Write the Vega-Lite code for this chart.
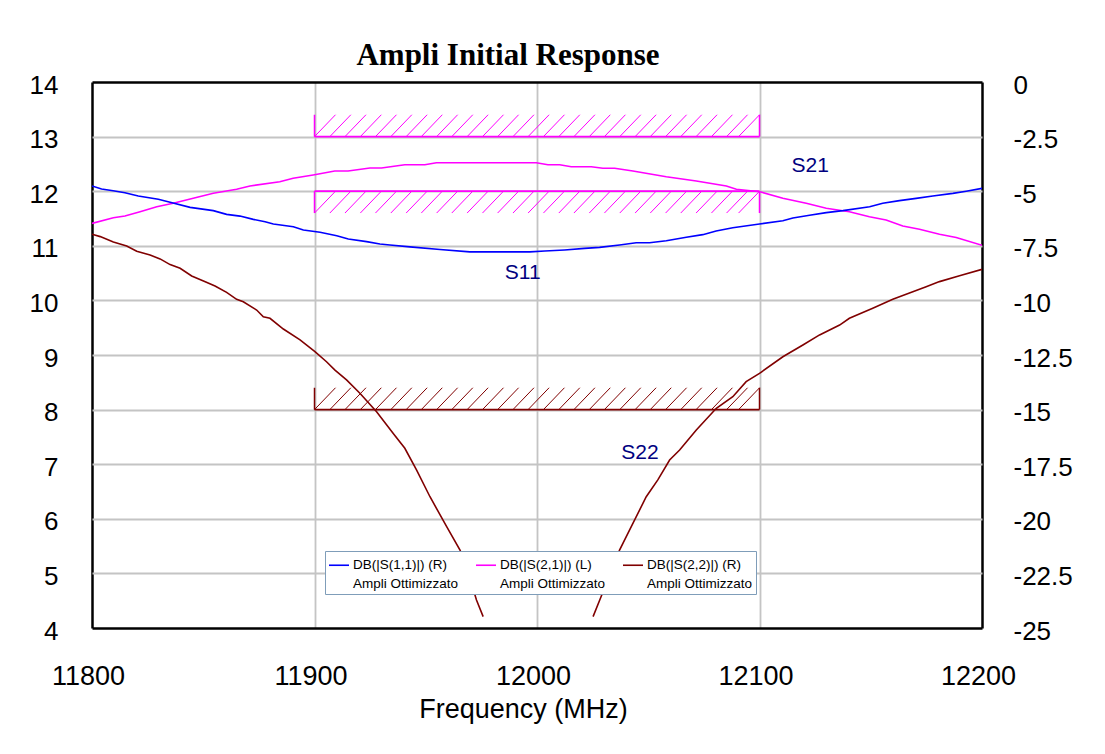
{
  "$schema": "https://vega.github.io/schema/vega-lite/v6.json",
  "width": 890,
  "height": 546,
  "autosize": {"type": "none"},
  "padding": {"left": 92, "top": 82, "right": 123, "bottom": 126},
  "background": "white",
  "title": {"text": "Ampli Initial Response", "font": "Liberation Serif", "fontSize": 31, "fontWeight": "bold", "color": "black", "anchor": "middle", "frame": "group", "dx": -29, "offset": -24, "baseline": "alphabetic"},
  "config": {"view": {"stroke": null}, "font": "Liberation Sans"},
  "datasets": {
    "s21": [
      {"s":"S21","f":11800,"v":11.41},{"s":"S21","f":11809.6,"v":11.515},{"s":"S21","f":11814.8,"v":11.546},{"s":"S21","f":11821.6,"v":11.625},{"s":"S21","f":11829.1,"v":11.716},{"s":"S21","f":11836.5,"v":11.778},{"s":"S21","f":11845.5,"v":11.87},{"s":"S21","f":11854.5,"v":11.962},{"s":"S21","f":11865,"v":12.035},{"s":"S21","f":11871,"v":12.095},{"s":"S21","f":11884.4,"v":12.174},{"s":"S21","f":11890.4,"v":12.236},{"s":"S21","f":11899.4,"v":12.297},{"s":"S21","f":11909.1,"v":12.37},{"s":"S21","f":11915.1,"v":12.37},{"s":"S21","f":11924.9,"v":12.425},{"s":"S21","f":11930.1,"v":12.425},{"s":"S21","f":11940.6,"v":12.485},{"s":"S21","f":11949.6,"v":12.485},{"s":"S21","f":11954.8,"v":12.522},{"s":"S21","f":11980,"v":12.522},{"s":"S21","f":11999.7,"v":12.522},{"s":"S21","f":12004.9,"v":12.485},{"s":"S21","f":12010.2,"v":12.485},{"s":"S21","f":12015.4,"v":12.449},{"s":"S21","f":12024.4,"v":12.449},{"s":"S21","f":12029.6,"v":12.419},{"s":"S21","f":12034.9,"v":12.419},{"s":"S21","f":12043.1,"v":12.37},{"s":"S21","f":12058.1,"v":12.265},{"s":"S21","f":12071.6,"v":12.187},{"s":"S21","f":12085.1,"v":12.095},{"s":"S21","f":12089.6,"v":12.035},{"s":"S21","f":12100.2,"v":11.99},{"s":"S21","f":12110.5,"v":11.87},{"s":"S21","f":12121,"v":11.778},{"s":"S21","f":12130,"v":11.687},{"s":"S21","f":12140.4,"v":11.625},{"s":"S21","f":12149.4,"v":11.533},{"s":"S21","f":12156.9,"v":11.473},{"s":"S21","f":12164.4,"v":11.363},{"s":"S21","f":12171.9,"v":11.304},{"s":"S21","f":12180.9,"v":11.212},{"s":"S21","f":12188.4,"v":11.152},{"s":"S21","f":12200,"v":11.01}
    ],
    "rs": [
      {"s":"S11","f":11800,"v":-4.76},{"s":"S11","f":11804.3,"v":-4.9},{"s":"S11","f":11809.5,"v":-4.98},{"s":"S11","f":11814.8,"v":-5.07},{"s":"S11","f":11820.8,"v":-5.22},{"s":"S11","f":11829.8,"v":-5.37},{"s":"S11","f":11835.1,"v":-5.51},{"s":"S11","f":11844.1,"v":-5.74},{"s":"S11","f":11854.5,"v":-5.89},{"s":"S11","f":11860.5,"v":-6.06},{"s":"S11","f":11866.5,"v":-6.14},{"s":"S11","f":11872.5,"v":-6.29},{"s":"S11","f":11877.8,"v":-6.4},{"s":"S11","f":11881.5,"v":-6.5},{"s":"S11","f":11890.5,"v":-6.63},{"s":"S11","f":11895,"v":-6.78},{"s":"S11","f":11902.5,"v":-6.88},{"s":"S11","f":11910,"v":-7.04},{"s":"S11","f":11915.2,"v":-7.19},{"s":"S11","f":11923.4,"v":-7.31},{"s":"S11","f":11929.4,"v":-7.42},{"s":"S11","f":11933.9,"v":-7.46},{"s":"S11","f":11942.9,"v":-7.55},{"s":"S11","f":11956.4,"v":-7.67},{"s":"S11","f":11969.8,"v":-7.78},{"s":"S11","f":11996.8,"v":-7.78},{"s":"S11","f":12003.5,"v":-7.74},{"s":"S11","f":12012.4,"v":-7.69},{"s":"S11","f":12021.4,"v":-7.62},{"s":"S11","f":12028.1,"v":-7.57},{"s":"S11","f":12037.1,"v":-7.46},{"s":"S11","f":12044.6,"v":-7.36},{"s":"S11","f":12050.6,"v":-7.36},{"s":"S11","f":12058.1,"v":-7.27},{"s":"S11","f":12067.1,"v":-7.11},{"s":"S11","f":12074.5,"v":-6.99},{"s":"S11","f":12080.5,"v":-6.82},{"s":"S11","f":12088,"v":-6.67},{"s":"S11","f":12100,"v":-6.5},{"s":"S11","f":12110.5,"v":-6.35},{"s":"S11","f":12115,"v":-6.23},{"s":"S11","f":12122.5,"v":-6.1},{"s":"S11","f":12130,"v":-5.98},{"s":"S11","f":12137.5,"v":-5.89},{"s":"S11","f":12149.5,"v":-5.71},{"s":"S11","f":12155.4,"v":-5.55},{"s":"S11","f":12162.9,"v":-5.43},{"s":"S11","f":12170.4,"v":-5.33},{"s":"S11","f":12177.9,"v":-5.22},{"s":"S11","f":12186.9,"v":-5.1},{"s":"S11","f":12192.9,"v":-5.0},{"s":"S11","f":12200,"v":-4.87},
      {"s":"S22","p":"a","f":11800,"v":-6.97},{"s":"S22","p":"a","f":11803.7,"v":-7.08},{"s":"S22","p":"a","f":11809.6,"v":-7.33},{"s":"S22","p":"a","f":11815.6,"v":-7.51},{"s":"S22","p":"a","f":11820.1,"v":-7.75},{"s":"S22","p":"a","f":11826.1,"v":-7.92},{"s":"S22","p":"a","f":11830.6,"v":-8.1},{"s":"S22","p":"a","f":11835.1,"v":-8.36},{"s":"S22","p":"a","f":11839.6,"v":-8.53},{"s":"S22","p":"a","f":11844.8,"v":-8.88},{"s":"S22","p":"a","f":11850.1,"v":-9.11},{"s":"S22","p":"a","f":11855.3,"v":-9.34},{"s":"S22","p":"a","f":11860.5,"v":-9.63},{"s":"S22","p":"a","f":11865,"v":-9.95},{"s":"S22","p":"a","f":11868,"v":-10.06},{"s":"S22","p":"a","f":11874,"v":-10.44},{"s":"S22","p":"a","f":11877,"v":-10.75},{"s":"S22","p":"a","f":11880,"v":-10.82},{"s":"S22","p":"a","f":11886,"v":-11.31},{"s":"S22","p":"a","f":11893.5,"v":-11.81},{"s":"S22","p":"a","f":11900.2,"v":-12.35},{"s":"S22","p":"a","f":11905.4,"v":-12.81},{"s":"S22","p":"a","f":11909.2,"v":-13.19},{"s":"S22","p":"a","f":11914.4,"v":-13.64},{"s":"S22","p":"a","f":11920.4,"v":-14.25},{"s":"S22","p":"a","f":11927.9,"v":-15.1},{"s":"S22","p":"a","f":11935.4,"v":-16.09},{"s":"S22","p":"a","f":11940.6,"v":-16.77},{"s":"S22","p":"a","f":11945.9,"v":-17.77},{"s":"S22","p":"a","f":11951.9,"v":-18.99},{"s":"S22","p":"a","f":11959.4,"v":-20.36},{"s":"S22","p":"a","f":11965.4,"v":-21.43},{"s":"S22","p":"a","f":11968.9,"v":-22.4},{"s":"S22","p":"a","f":11972.8,"v":-23.72},{"s":"S22","p":"a","f":11975.8,"v":-24.48},
      {"s":"S22","p":"b","f":12025.2,"v":-24.48},{"s":"S22","p":"b","f":12028.2,"v":-23.72},{"s":"S22","p":"b","f":12032.7,"v":-22.57},{"s":"S22","p":"b","f":12037.1,"v":-21.43},{"s":"S22","p":"b","f":12043.1,"v":-20.21},{"s":"S22","p":"b","f":12049.1,"v":-18.99},{"s":"S22","p":"b","f":12054.3,"v":-18.22},{"s":"S22","p":"b","f":12059.6,"v":-17.31},{"s":"S22","p":"b","f":12064.1,"v":-16.85},{"s":"S22","p":"b","f":12071.6,"v":-15.93},{"s":"S22","p":"b","f":12080.6,"v":-14.94},{"s":"S22","p":"b","f":12088,"v":-14.41},{"s":"S22","p":"b","f":12094,"v":-13.72},{"s":"S22","p":"b","f":12100,"v":-13.34},{"s":"S22","p":"b","f":12110.5,"v":-12.58},{"s":"S22","p":"b","f":12119.5,"v":-12.04},{"s":"S22","p":"b","f":12127,"v":-11.58},{"s":"S22","p":"b","f":12136,"v":-11.13},{"s":"S22","p":"b","f":12140.4,"v":-10.82},{"s":"S22","p":"b","f":12150.9,"v":-10.36},{"s":"S22","p":"b","f":12159.9,"v":-9.95},{"s":"S22","p":"b","f":12168.9,"v":-9.6},{"s":"S22","p":"b","f":12174.9,"v":-9.37},{"s":"S22","p":"b","f":12180.9,"v":-9.14},{"s":"S22","p":"b","f":12189.9,"v":-8.87},{"s":"S22","p":"b","f":12200,"v":-8.58}
    ],
    "masks": [
      {"m":"S21 max","lim":13,"edge":13.4,"f1":11900,"f2":12100},
      {"m":"S21 min","lim":12,"edge":11.6,"f1":11900,"f2":12100},
      {"m":"S22 max","lim":8,"edge":8.4,"f1":11900,"f2":12100}
    ],
    "hatch": [
      {"f":11900},{"f":11906.9},{"f":11913.7},{"f":11920.6},{"f":11927.4},{"f":11934.3},{"f":11941.2},{"f":11948},{"f":11954.9},{"f":11961.7},{"f":11968.6},{"f":11975.5},{"f":11982.3},{"f":11989.2},{"f":11996},{"f":12002.9},{"f":12009.8},{"f":12016.6},{"f":12023.5},{"f":12030.3},{"f":12037.2},{"f":12044.1},{"f":12050.9},{"f":12057.8},{"f":12064.6},{"f":12071.5},{"f":12078.4},{"f":12085.2},{"f":12090.6}
    ],
    "notes": [
      {"t":"S21","f":12122.8,"v":12.47},
      {"t":"S11","f":11993.6,"v":10.51},
      {"t":"S22","f":12046.3,"v":7.21}
    ]
  },
  "layer": [
    {
      "layer": [
        {
          "data": {"name": "masks"},
          "mark": {"type": "rule", "strokeWidth": 1.8},
          "encoding": {
            "x": {"field": "f1", "type": "quantitative", "scale": {"domain": [11800, 12200], "nice": false, "zero": false},
              "axis": {"values": [11800, 11900, 12000, 12100, 12200], "format": "d", "grid": true,
                "gridColor": {"condition": {"test": "datum.value <= 11800 || datum.value >= 12200", "value": "black"}, "value": "#c4c4c4"},
                "gridWidth": {"condition": {"test": "datum.value <= 11800 || datum.value >= 12200", "value": 2.5}, "value": 1.8},
                "domain": false, "ticks": false, "labelFont": "Liberation Sans", "labelFontSize": 27, "labelColor": "black", "labelPadding": 35, "labelOffset": -4, "labelFlush": false,
                "title": "Frequency (MHz)", "titleFont": "Liberation Sans", "titleFontSize": 27, "titleFontWeight": "normal", "titleColor": "black", "titleX": 431, "titleY": 89, "titleBaseline": "alphabetic", "titleAlign": "center"}},
            "x2": {"field": "f2"},
            "y": {"field": "lim", "type": "quantitative", "scale": {"domain": [4, 14], "nice": false, "zero": false},
              "axis": {"orient": "left", "values": [4, 5, 6, 7, 8, 9, 10, 11, 12, 13, 14], "format": "d", "grid": true,
                "gridColor": {"condition": {"test": "datum.value <= 4 || datum.value >= 14", "value": "black"}, "value": "#c4c4c4"},
                "gridWidth": {"condition": {"test": "datum.value <= 4 || datum.value >= 14", "value": 2.5}, "value": 1.8},
                "domain": false, "ticks": false, "labelFont": "Liberation Sans", "labelFontSize": 26, "labelColor": "black", "labelPadding": 34, "labelOffset": 3, "title": null}},
            "color": {"condition": {"test": "datum.m == 'S22 max'", "value": "#800000"}, "value": "#ff00ff"}
          }
        },
        {
          "data": {"name": "masks"},
          "mark": {"type": "rule", "strokeWidth": 1.5},
          "encoding": {
            "x": {"field": "f1", "type": "quantitative", "scale": {"domain": [11800, 12200], "nice": false, "zero": false}},
            "y": {"field": "lim", "type": "quantitative", "scale": {"domain": [4, 14], "nice": false, "zero": false}},
            "y2": {"field": "edge"},
            "color": {"condition": {"test": "datum.m == 'S22 max'", "value": "#800000"}, "value": "#ff00ff"}
          }
        },
        {
          "data": {"name": "masks"},
          "mark": {"type": "rule", "strokeWidth": 1.5},
          "encoding": {
            "x": {"field": "f2", "type": "quantitative", "scale": {"domain": [11800, 12200], "nice": false, "zero": false}},
            "y": {"field": "lim", "type": "quantitative", "scale": {"domain": [4, 14], "nice": false, "zero": false}},
            "y2": {"field": "edge"},
            "color": {"condition": {"test": "datum.m == 'S22 max'", "value": "#800000"}, "value": "#ff00ff"}
          }
        },
        {
          "data": {"name": "hatch"},
          "mark": {"type": "rule", "strokeWidth": 1, "color": "#ff00ff", "x2Offset": 21},
          "encoding": {
            "x": {"field": "f", "type": "quantitative", "scale": {"domain": [11800, 12200], "nice": false, "zero": false}},
            "x2": {"field": "f"},
            "y": {"datum": 13, "type": "quantitative", "scale": {"domain": [4, 14], "nice": false, "zero": false}},
            "y2": {"datum": 13.4}
          }
        },
        {
          "data": {"name": "hatch"},
          "mark": {"type": "rule", "strokeWidth": 1, "color": "#ff00ff", "x2Offset": 21},
          "encoding": {
            "x": {"field": "f", "type": "quantitative", "scale": {"domain": [11800, 12200], "nice": false, "zero": false}},
            "x2": {"field": "f"},
            "y": {"datum": 11.6, "type": "quantitative", "scale": {"domain": [4, 14], "nice": false, "zero": false}},
            "y2": {"datum": 12}
          }
        },
        {
          "data": {"name": "hatch"},
          "mark": {"type": "rule", "strokeWidth": 1, "color": "#800000", "x2Offset": 21},
          "encoding": {
            "x": {"field": "f", "type": "quantitative", "scale": {"domain": [11800, 12200], "nice": false, "zero": false}},
            "x2": {"field": "f"},
            "y": {"datum": 8, "type": "quantitative", "scale": {"domain": [4, 14], "nice": false, "zero": false}},
            "y2": {"datum": 8.4}
          }
        },
        {
          "data": {"name": "s21"},
          "mark": {"type": "line", "strokeWidth": 1.6, "clip": true},
          "encoding": {
            "x": {"field": "f", "type": "quantitative", "scale": {"domain": [11800, 12200], "nice": false, "zero": false}},
            "y": {"field": "v", "type": "quantitative", "scale": {"domain": [4, 14], "nice": false, "zero": false}},
            "color": {"field": "s", "type": "nominal", "scale": {"domain": ["S11", "S21", "S22"], "range": ["#0000ff", "#ff00ff", "#800000"]},
              "legend": {"orient": "none", "legendX": 233, "legendY": 469, "direction": "horizontal", "columns": 3, "title": null,
                "symbolType": "stroke", "symbolSize": 400, "symbolStrokeWidth": 1.6,
                "labelFont": "Liberation Sans", "labelFontSize": 13.5, "labelColor": "black", "labelLimit": 200, "labelOffset": 3, "labelBaseline": "middle",
                "labelExpr": "datum.label == 'S11' ? ['DB(|S(1,1)|) (R)', 'Ampli Ottimizzato'] : datum.label == 'S21' ? ['DB(|S(2,1)|) (L)', 'Ampli Ottimizzato'] : ['DB(|S(2,2)|) (R)', 'Ampli Ottimizzato']",
                "encoding": {"labels": {"lineHeight": {"value": 19}}},
                "fillColor": "white", "strokeColor": "#7f9db9", "padding": 3, "columnPadding": 13, "gridAlign": "all"}}
          }
        },
        {
          "data": {"name": "notes"},
          "mark": {"type": "text", "font": "Liberation Sans", "fontSize": 21, "color": "#000080", "align": "center", "baseline": "middle"},
          "encoding": {
            "x": {"field": "f", "type": "quantitative", "scale": {"domain": [11800, 12200], "nice": false, "zero": false}},
            "y": {"field": "v", "type": "quantitative", "scale": {"domain": [4, 14], "nice": false, "zero": false}},
            "text": {"field": "t"}
          }
        }
      ]
    },
    {
      "data": {"name": "rs"},
      "mark": {"type": "line", "strokeWidth": 1.6, "clip": true},
      "encoding": {
        "x": {"field": "f", "type": "quantitative", "scale": {"domain": [11800, 12200], "nice": false, "zero": false}},
        "y": {"field": "v", "type": "quantitative", "scale": {"domain": [-25, 0], "nice": false, "zero": false},
          "axis": {"orient": "right", "values": [-25, -22.5, -20, -17.5, -15, -12.5, -10, -7.5, -5, -2.5, 0], "grid": false, "domain": false, "ticks": false,
            "labelExpr": "(datum.value < 0 ? '-' : '') + toString(abs(datum.value))",
            "labelFont": "Liberation Sans", "labelFontSize": 26, "labelColor": "black", "labelPadding": 31, "labelOffset": 3, "labelAlign": "left", "title": null}},
        "detail": {"field": "p"},
        "color": {"field": "s", "type": "nominal", "scale": {"domain": ["S11", "S21", "S22"], "range": ["#0000ff", "#ff00ff", "#800000"]},
          "legend": {"orient": "none", "legendX": 233, "legendY": 469, "direction": "horizontal", "columns": 3, "title": null,
            "symbolType": "stroke", "symbolSize": 400, "symbolStrokeWidth": 1.6,
            "labelFont": "Liberation Sans", "labelFontSize": 13.5, "labelColor": "black", "labelLimit": 200, "labelOffset": 3, "labelBaseline": "middle",
            "labelExpr": "datum.label == 'S11' ? ['DB(|S(1,1)|) (R)', 'Ampli Ottimizzato'] : datum.label == 'S21' ? ['DB(|S(2,1)|) (L)', 'Ampli Ottimizzato'] : ['DB(|S(2,2)|) (R)', 'Ampli Ottimizzato']",
            "encoding": {"labels": {"lineHeight": {"value": 19}}},
            "fillColor": "white", "strokeColor": "#7f9db9", "padding": 3, "columnPadding": 13, "gridAlign": "all"}}
      }
    }
  ],
  "resolve": {"scale": {"y": "independent"}}
}
